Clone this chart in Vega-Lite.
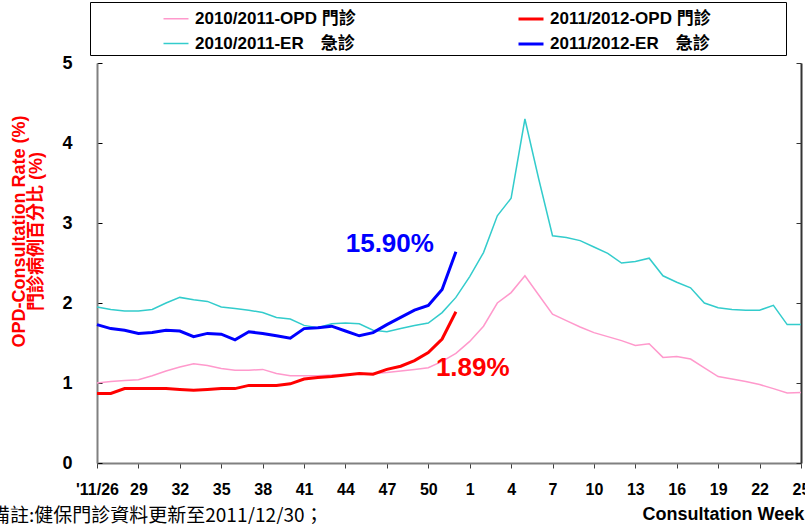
{
  "$schema": "https://vega.github.io/schema/vega-lite/v6.json",
  "width": 704,
  "height": 400,
  "autosize": {"type": "none"},
  "padding": {"left": 97, "top": 63, "right": 4, "bottom": 61},
  "background": "white",
  "title": {
    "text": "備註:健保門診資料更新至2011/12/30；",
    "orient": "bottom", "anchor": "start", "frame": "group",
    "font": "Noto Sans CJK TC", "fontSize": 19, "fontWeight": "normal", "color": "black",
    "dx": -106, "dy": -16, "offset": 0, "baseline": "top"
  },
  "config": {"view": {"stroke": null}},
  "data": {"values": [
    {"week": "26", "opd1011": 1.00, "er1011": 1.95, "opd1112": 0.87, "er1112": 1.73},
    {"week": "27", "opd1011": 1.02, "er1011": 1.92, "opd1112": 0.87, "er1112": 1.68},
    {"week": "28", "opd1011": 1.03, "er1011": 1.90, "opd1112": 0.93, "er1112": 1.66},
    {"week": "29", "opd1011": 1.04, "er1011": 1.90, "opd1112": 0.93, "er1112": 1.62},
    {"week": "30", "opd1011": 1.09, "er1011": 1.92, "opd1112": 0.93, "er1112": 1.63},
    {"week": "31", "opd1011": 1.15, "er1011": 2.00, "opd1112": 0.93, "er1112": 1.66},
    {"week": "32", "opd1011": 1.20, "er1011": 2.07, "opd1112": 0.92, "er1112": 1.65},
    {"week": "33", "opd1011": 1.24, "er1011": 2.04, "opd1112": 0.91, "er1112": 1.58},
    {"week": "34", "opd1011": 1.22, "er1011": 2.02, "opd1112": 0.92, "er1112": 1.62},
    {"week": "35", "opd1011": 1.18, "er1011": 1.95, "opd1112": 0.93, "er1112": 1.61},
    {"week": "36", "opd1011": 1.16, "er1011": 1.93, "opd1112": 0.93, "er1112": 1.54},
    {"week": "37", "opd1011": 1.16, "er1011": 1.91, "opd1112": 0.97, "er1112": 1.64},
    {"week": "38", "opd1011": 1.17, "er1011": 1.88, "opd1112": 0.97, "er1112": 1.62},
    {"week": "39", "opd1011": 1.12, "er1011": 1.82, "opd1112": 0.97, "er1112": 1.59},
    {"week": "40", "opd1011": 1.09, "er1011": 1.80, "opd1112": 0.99, "er1112": 1.56},
    {"week": "41", "opd1011": 1.09, "er1011": 1.72, "opd1112": 1.05, "er1112": 1.68},
    {"week": "42", "opd1011": 1.09, "er1011": 1.69, "opd1112": 1.07, "er1112": 1.69},
    {"week": "43", "opd1011": 1.10, "er1011": 1.74, "opd1112": 1.08, "er1112": 1.71},
    {"week": "44", "opd1011": 1.11, "er1011": 1.75, "opd1112": 1.10, "er1112": 1.65},
    {"week": "45", "opd1011": 1.11, "er1011": 1.74, "opd1112": 1.12, "er1112": 1.59},
    {"week": "46", "opd1011": 1.12, "er1011": 1.66, "opd1112": 1.11, "er1112": 1.63},
    {"week": "47", "opd1011": 1.13, "er1011": 1.64, "opd1112": 1.17, "er1112": 1.73},
    {"week": "48", "opd1011": 1.15, "er1011": 1.68, "opd1112": 1.21, "er1112": 1.82},
    {"week": "49", "opd1011": 1.17, "er1011": 1.72, "opd1112": 1.28, "er1112": 1.91},
    {"week": "50", "opd1011": 1.19, "er1011": 1.75, "opd1112": 1.38, "er1112": 1.97},
    {"week": "51", "opd1011": 1.27, "er1011": 1.88, "opd1112": 1.55, "er1112": 2.17},
    {"week": "52", "opd1011": 1.37, "er1011": 2.07, "opd1112": 1.89, "er1112": 2.64},
    {"week": "1", "opd1011": 1.52, "er1011": 2.33},
    {"week": "2", "opd1011": 1.71, "er1011": 2.63},
    {"week": "3", "opd1011": 2.00, "er1011": 3.09},
    {"week": "4", "opd1011": 2.13, "er1011": 3.31},
    {"week": "5", "opd1011": 2.34, "er1011": 4.30},
    {"week": "6", "opd1011": 2.10, "er1011": 3.55},
    {"week": "7", "opd1011": 1.86, "er1011": 2.84},
    {"week": "8", "opd1011": 1.78, "er1011": 2.82},
    {"week": "9", "opd1011": 1.70, "er1011": 2.78},
    {"week": "10", "opd1011": 1.63, "er1011": 2.70},
    {"week": "11", "opd1011": 1.58, "er1011": 2.62},
    {"week": "12", "opd1011": 1.53, "er1011": 2.50},
    {"week": "13", "opd1011": 1.47, "er1011": 2.52},
    {"week": "14", "opd1011": 1.49, "er1011": 2.56},
    {"week": "15", "opd1011": 1.32, "er1011": 2.34},
    {"week": "16", "opd1011": 1.33, "er1011": 2.26},
    {"week": "17", "opd1011": 1.30, "er1011": 2.19},
    {"week": "18", "opd1011": 1.19, "er1011": 2.00},
    {"week": "19", "opd1011": 1.08, "er1011": 1.94},
    {"week": "20", "opd1011": 1.05, "er1011": 1.92},
    {"week": "21", "opd1011": 1.02, "er1011": 1.91},
    {"week": "22", "opd1011": 0.98, "er1011": 1.91},
    {"week": "23", "opd1011": 0.93, "er1011": 1.97},
    {"week": "24", "opd1011": 0.875, "er1011": 1.73},
    {"week": "25", "opd1011": 0.88, "er1011": 1.73}
  ]},
  "layer": [
    {
      "transform": [{"fold": ["opd1011", "er1011", "opd1112", "er1112"], "as": ["key", "value"]}],
      "mark": {"type": "line"},
      "encoding": {
        "x": {
          "field": "week", "type": "ordinal",
          "scale": {"type": "point", "padding": 0, "domain": ["26","27","28","29","30","31","32","33","34","35","36","37","38","39","40","41","42","43","44","45","46","47","48","49","50","51","52","1","2","3","4","5","6","7","8","9","10","11","12","13","14","15","16","17","18","19","20","21","22","23","24","25"]},
          "axis": {
            "values": ["26","29","32","35","38","41","44","47","50","1","4","7","10","13","16","19","22","25"],
            "labelExpr": "datum.label == '26' ? \"'11/26\" : datum.label",
            "labelAngle": 0, "labelOverlap": false,
            "tickSize": 5, "tickColor": "#404040", "tickWidth": 1,
            "labelPadding": 13, "labelFont": "Liberation Sans", "labelFontSize": 16, "labelFontWeight": "bold", "labelColor": "black",
            "domainColor": "#808080", "domainWidth": 2, "grid": false,
            "title": "Consultation Week", "titleFont": "Liberation Sans", "titleFontSize": 18, "titleFontWeight": "bold", "titleColor": "black",
            "titleX": 545, "titleY": 56, "titleAlign": "left", "titleBaseline": "alphabetic", "titleAnchor": "start"
          }
        },
        "y": {
          "field": "value", "type": "quantitative",
          "scale": {"domain": [0, 5], "nice": false},
          "axis": {
            "values": [0, 1, 2, 3, 4, 5],
            "tickSize": -5, "tickColor": "black", "tickWidth": 1,
            "labelPadding": 30, "labelFont": "Liberation Sans", "labelFontSize": 18, "labelFontWeight": "bold", "labelColor": "black",
            "domainColor": "#808080", "domainWidth": 2, "grid": false,
            "title": ["OPD-Consultation Rate (%)", "門診病例百分比  (%)"],
            "titleColor": "#FF0000", "titleFont": "Liberation Sans, Noto Sans CJK TC", "titleFontSize": 18, "titleFontWeight": "bold",
            "titleAngle": -90, "titleAlign": "center", "titleBaseline": "alphabetic",
            "titleX": -73, "titleY": 168, "titleLineHeight": 17
          }
        },
        "color": {
          "field": "key", "type": "nominal",
          "scale": {"domain": ["opd1011", "er1011", "opd1112", "er1112"], "range": ["#FF99CC", "#33CCCC", "#FF0000", "#0000FF"]},
          "legend": {
            "orient": "none", "legendX": -7, "legendY": -61, "columns": 2, "title": null,
            "labelExpr": "datum.value == 'opd1011' ? '2010/2011-OPD 門診' : datum.value == 'opd1112' ? '2011/2012-OPD 門診\u2800\u2800\u2800\u2800\u2800\u2800' : datum.value == 'er1011' ? '2010/2011-ER\u3000急診' : '2011/2012-ER\u3000急診\u2800\u2800\u2800\u2800\u2800\u2800'",
            "symbolType": "stroke", "symbolSize": 625, "labelLimit": 500,
            "labelFont": "Liberation Sans, Noto Sans CJK TC", "labelFontSize": 17, "labelFontWeight": "bold", "labelColor": "black",
            "strokeColor": "black", "fillColor": "white", "padding": 3, "rowPadding": 3, "columnPadding": 92,
            "symbolOffset": 69, "labelOffset": 5
          }
        },
        "strokeWidth": {
          "field": "key", "type": "nominal",
          "scale": {"type": "ordinal", "domain": ["opd1011", "er1011", "opd1112", "er1112"], "range": [1.5, 1.5, 3, 3]},
          "legend": {
            "orient": "none", "legendX": -7, "legendY": -61, "columns": 2, "title": null,
            "labelExpr": "datum.value == 'opd1011' ? '2010/2011-OPD 門診' : datum.value == 'opd1112' ? '2011/2012-OPD 門診\u2800\u2800\u2800\u2800\u2800\u2800' : datum.value == 'er1011' ? '2010/2011-ER\u3000急診' : '2011/2012-ER\u3000急診\u2800\u2800\u2800\u2800\u2800\u2800'",
            "symbolType": "stroke", "symbolSize": 625, "labelLimit": 500,
            "labelFont": "Liberation Sans, Noto Sans CJK TC", "labelFontSize": 17, "labelFontWeight": "bold", "labelColor": "black",
            "strokeColor": "black", "fillColor": "white", "padding": 3, "rowPadding": 3, "columnPadding": 92,
            "symbolOffset": 69, "labelOffset": 5
          }
        }
      }
    },
    {
      "data": {"values": [{"week": "52", "value": 2.64, "label": "15.90%"}]},
      "mark": {"type": "text", "color": "#0000FF", "font": "Liberation Sans", "fontSize": 26, "fontWeight": "bold", "align": "right", "baseline": "alphabetic", "dx": -22, "dy": 0},
      "encoding": {
        "x": {"field": "week", "type": "ordinal"},
        "y": {"field": "value", "type": "quantitative", "axis": null},
        "text": {"field": "label"}
      }
    },
    {
      "data": {"values": [{"week": "52", "value": 1.89, "label": "1.89%"}]},
      "mark": {"type": "text", "color": "#FF0000", "font": "Liberation Sans", "fontSize": 26, "fontWeight": "bold", "align": "left", "baseline": "alphabetic", "dx": -20, "dy": 64},
      "encoding": {
        "x": {"field": "week", "type": "ordinal"},
        "y": {
          "field": "value", "type": "quantitative",
          "axis": {"orient": "right", "values": [0, 1, 2, 3, 4, 5], "labels": false, "ticks": true, "tickSize": -5, "tickColor": "#333333", "domainColor": "#333333", "domainWidth": 2, "grid": false, "title": null}
        },
        "text": {"field": "label"}
      }
    }
  ],
  "resolve": {"axis": {"y": "independent"}}
}
